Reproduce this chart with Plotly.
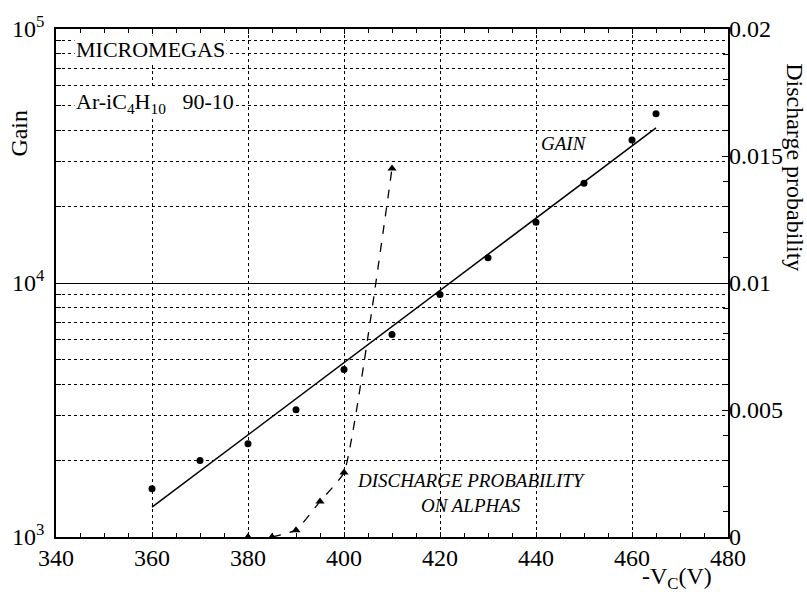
import plotly.graph_objects as go

# ---- data ----
gain_v = [360, 370, 380, 390, 400, 410, 420, 430, 440, 450, 460, 465]
gain_vals = [1550, 2000, 2330, 3170, 4570, 6270, 9020, 12560, 17340, 24700, 36600, 46400]

fit_v = [360, 465]
fit_vals = [1312, 40770]

dis_v = [380, 385, 390, 395, 400, 410]
dis_vals = [0.0, 0.0, 0.00027, 0.00140, 0.00254, 0.01451]

dis_line_v = [385, 390, 395, 400, 410]
dis_line_vals = [0.0, 0.00027, 0.00140, 0.00254, 0.01451]

left_major = [1e3, 1e4, 1e5]
left_major_text = ["10<sup>3</sup>", "10<sup>4</sup>", "10<sup>5</sup>"]
left_minor = [m * 10 ** e for e in (3, 4) for m in range(2, 10)]
right_ticks = [0, 0.005, 0.01, 0.015, 0.02]
right_text = ["0", "0.005", "0.01", "0.015", "0.02"]

FONT = "Liberation Serif, Times New Roman, Times, serif"

fig = go.Figure()

fig.add_trace(go.Scatter(x=fit_v, y=fit_vals, mode="lines",
                         line=dict(color="black", width=1.5), showlegend=False))
fig.add_trace(go.Scatter(x=gain_v, y=gain_vals, mode="markers",
                         marker=dict(color="black", size=7, symbol="circle"), showlegend=False))
fig.add_trace(go.Scatter(x=dis_line_v, y=dis_line_vals, mode="lines", yaxis="y2",
                         line=dict(color="black", width=1.3, dash="dash", shape="spline", smoothing=0.4),
                         showlegend=False))
fig.add_trace(go.Scatter(x=dis_v, y=dis_vals, mode="markers", yaxis="y2", cliponaxis=False,
                         marker=dict(color="black", size=8, symbol="triangle-up"), showlegend=False))

fig.update_layout(
    width=807, height=596,
    margin=dict(l=55, r=79, t=22, b=59),
    paper_bgcolor="white", plot_bgcolor="white",
    font=dict(family=FONT, color="black", size=24),
    xaxis=dict(range=[340, 480], tickmode="linear", tick0=340, dtick=20,
               ticks="inside", ticklen=5, tickcolor="black", tickwidth=1,
               showline=True, linecolor="black", linewidth=1.5, mirror="ticks",
               showgrid=True, gridcolor="black", gridwidth=1, griddash="dot",
               zeroline=False, tickfont=dict(size=24, family=FONT),
               ticklabelstandoff=-2,
               minor=dict(dtick=5, tick0=340, ticks="inside", ticklen=4,
                          tickcolor="black", showgrid=False)),
    yaxis=dict(type="log", range=[3, 5], tickmode="array",
               tickvals=left_major, ticktext=left_major_text,
               ticks="inside", ticklen=6, tickcolor="black",
               showline=True, linecolor="black", linewidth=1.5, mirror=True,
               showgrid=True, gridcolor="black", gridwidth=1,
               zeroline=False, tickfont=dict(size=24, family=FONT),
               ticklabelstandoff=5,
               minor=dict(tickmode="array", tickvals=left_minor, ticks="inside",
                          ticklen=5, tickcolor="black", showgrid=True,
                          gridcolor="black", gridwidth=1, griddash="dot")),
    yaxis2=dict(overlaying="y", side="right", range=[0, 0.02], tickmode="array",
                tickvals=right_ticks, ticktext=right_text,
                ticks="inside", ticklen=6, tickcolor="black",
                showline=False, showgrid=False, zeroline=False,
                tickfont=dict(size=24, family=FONT),
                minor=dict(dtick=0.001, tick0=0, ticks="inside", ticklen=5,
                           tickcolor="black", showgrid=False)),
)

fig.add_annotation(text="MICROMEGAS", xref="paper", yref="paper",
                   x=(73 - 55) / 673, y=1 - (43 - 22) / 515, xanchor="left", yanchor="middle",
                   showarrow=False, font=dict(size=22, family=FONT),
                   bgcolor="white")
fig.add_annotation(text="Ar-iC<sub>4</sub>H<sub>10</sub>&nbsp;&nbsp;&nbsp;90-10", xref="paper", yref="paper",
                   x=(73 - 55) / 673, y=1 - (97 - 22) / 515, xanchor="left", yanchor="middle",
                   showarrow=False, font=dict(size=22, family=FONT), bgcolor="white")
fig.add_annotation(text="<i>GAIN</i>", xref="paper", yref="paper",
                   x=(564 - 55) / 673, y=1 - (138 - 22) / 515, xanchor="center", yanchor="middle",
                   showarrow=False, font=dict(size=19, family=FONT))
fig.add_annotation(text="<i>DISCHARGE PROBABILITY</i><br><i>ON ALPHAS</i>", xref="paper", yref="paper",
                   x=(471 - 55) / 673, y=1 - (492 - 22) / 515, xanchor="center", yanchor="middle",
                   showarrow=False, font=dict(size=19, family=FONT), align="center")
fig.add_annotation(text="Gain", xref="paper", yref="paper",
                   x=(18 - 55) / 673, y=1 - (128 - 22) / 515, xanchor="center", yanchor="middle",
                   textangle=-90, showarrow=False, font=dict(size=24, family=FONT))
fig.add_annotation(text="Discharge probability", xref="paper", yref="paper",
                   x=(795 - 55) / 673, y=1 - (162 - 22) / 515, xanchor="center", yanchor="middle",
                   textangle=90, showarrow=False, font=dict(size=24, family=FONT))
fig.add_annotation(text="-V<sub>C</sub>(V)", xref="paper", yref="paper",
                   x=(714 - 55) / 673, y=1 - (579 - 22) / 515, xanchor="right", yanchor="middle",
                   showarrow=False, font=dict(size=24, family=FONT))

fig.write_html("out.html")
